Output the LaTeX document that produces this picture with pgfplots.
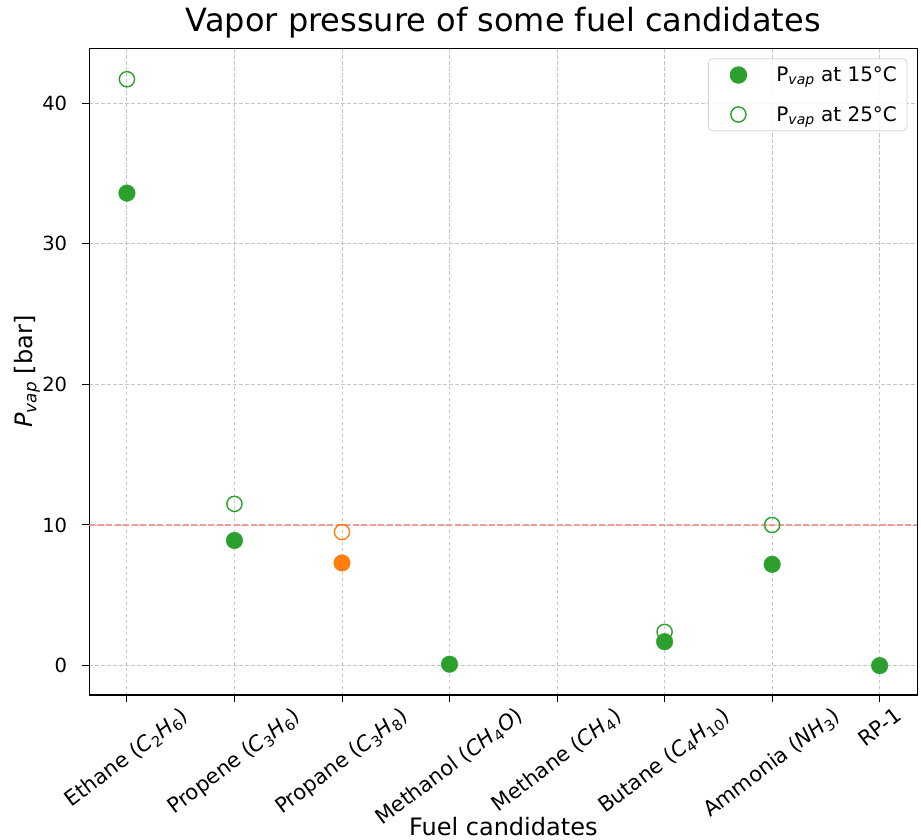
\documentclass[border=0pt]{standalone}
\usepackage{fontspec}
\setmainfont{DejaVu Sans}
\usepackage{pgfplots}
\pgfplotsset{compat=1.18}
\definecolor{tabgreen}{HTML}{2CA02C}
\definecolor{taborange}{HTML}{FF7F0E}
\definecolor{gridgray}{HTML}{C4C4C4}
\definecolor{reflred}{HTML}{F29B9B}
\newcommand\lab[1]{\tikz\node[rotate=37,inner sep=0pt,anchor=center,font=\fontsize{21}{24}\selectfont]{#1};}
\newcommand\el[1]{\textit{#1}}
\begin{document}
\begin{tikzpicture}
\useasboundingbox (-89.3pt,-144pt) rectangle (831.7pt,695pt);
\begin{axis}[
  at={(0pt,0pt)}, anchor=south west,
  width=828pt, height=646.7pt, scale only axis,
  xmin=-0.35, xmax=7.35, ymin=-2.09, ymax=43.9,
  xtick={0,1,2,3,4,5,6,7},
  xticklabels={
    \lab{Ethane (\el{C}\textsubscript{2}\el{H}\textsubscript{6})},
    \lab{Propene (\el{C}\textsubscript{3}\el{H}\textsubscript{6})},
    \lab{Propane (\el{C}\textsubscript{3}\el{H}\textsubscript{8})},
    \lab{Methanol (\el{CH}\textsubscript{4}\el{O})},
    \lab{Methane (\el{CH}\textsubscript{4})},
    \lab{Butane (\el{C}\textsubscript{4}\el{H}\textsubscript{10})},
    \lab{Ammonia (\el{NH}\textsubscript{3})},
    \lab{RP-1}},
  ytick={0,10,20,30,40},
  grid=major,
  grid style={gridgray, line width=0.9pt, dash pattern=on 3.5pt off 2.5pt},
  axis line style={black, line width=1.1pt},
  tick style={black, line width=1pt},
  major tick length=7pt,
  tick align=outside,
  xtick pos=bottom, ytick pos=left,
  /pgf/number format/assume math mode=true,
  tick label style={font=\fontsize{19.5}{22}\selectfont},
  xticklabel style={anchor=north, inner sep=0pt, yshift=-4pt},
  yticklabel style={anchor=east, inner sep=0pt, xshift=-15pt},
  title={Vapor pressure of some fuel candidates},
  title style={at={(axis description cs:0.5,1)}, anchor=base, yshift=11pt, inner sep=0pt, font=\fontsize{32}{36}\selectfont},
  xlabel={Fuel candidates},
  xlabel style={at={(axis description cs:0.5,0)}, anchor=base, yshift=-140pt, inner sep=0pt, font=\fontsize{24}{28}\selectfont},
  ylabel={\textit{P}\textsubscript{\textit{vap}} [bar]},
  ylabel style={at={(axis description cs:-0.075,0.5)}, anchor=center, inner sep=0pt, font=\fontsize{24}{28}\selectfont},
  legend cell align=left,
  legend image code/.code={\path[draw=none,fill=none] (0pt,-8pt) rectangle (48pt,8pt); \draw[mark repeat=1,#1,fill opacity=1,draw opacity=1] plot coordinates {(20pt,0pt)};},
  legend style={at={(axis description cs:0.988,0.9845)}, anchor=north east,
    draw=gray!35, line width=0.8pt, rounded corners=4pt, fill=white, fill opacity=0.85, text opacity=1,
    inner xsep=10pt, inner ysep=8pt, column sep=10pt, row sep=23pt,
    nodes={inner sep=0pt},
    font=\fontsize{20}{24}\selectfont},
]
\addplot[reflred, line width=1.5pt, dash pattern=on 6pt off 2.5pt, forget plot] coordinates {(-0.35,10) (7.35,10)};
\addplot[only marks, mark=o, mark size=7.6pt, tabgreen, line width=1.4pt, forget plot] coordinates {(0,41.7) (1,11.5) (5,2.4) (6,10.0)};
\addplot[only marks, mark=o, mark size=7.6pt, taborange, line width=1.4pt, forget plot] coordinates {(2,9.5)};
\addplot[only marks, mark=*, mark size=8.3pt, tabgreen, forget plot] coordinates {(0,33.6) (1,8.9) (3,0.1) (5,1.7) (6,7.2) (7,0.0)};
\addplot[only marks, mark=*, mark size=8.3pt, taborange, forget plot] coordinates {(2,7.3)};
\addlegendimage{only marks, mark=*, mark size=8.3pt, tabgreen}
\addlegendentry{P\textsubscript{\textit{vap}} at 15°C}
\addlegendimage{only marks, mark=o, mark size=7.6pt, tabgreen, line width=1.4pt}
\addlegendentry{P\textsubscript{\textit{vap}} at 25°C}
\end{axis}
\end{tikzpicture}
\end{document}
